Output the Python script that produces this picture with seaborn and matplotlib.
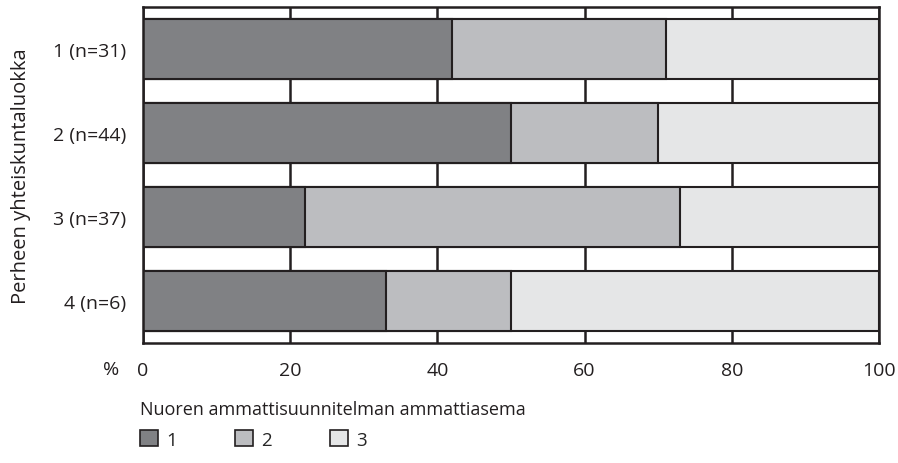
import matplotlib
matplotlib.use("Agg")
import matplotlib.pyplot as plt
import numpy as np
import pandas as pd
import seaborn as sns
from matplotlib.patches import Patch

# data
groups = ["1 (n=31)", "2 (n=44)", "3 (n=37)", "4 (n=6)"]
status_1 = [42, 50, 22, 33]
status_2 = [29, 20, 51, 17]
status_3 = [29, 30, 27, 50]
series_labels = ["1", "2", "3"]
colors = ["#808184", "#bcbdc0", "#e5e6e7"]

df = pd.DataFrame({"group": groups, "s1": status_1, "s2": status_2, "s3": status_3})
df["c1"] = df["s1"]
df["c2"] = df["s1"] + df["s2"]
df["c3"] = df["c2"] + df["s3"]

sns.set_style("white")
plt.rcParams["font.family"] = ["Open Sans", "DejaVu Sans"]
plt.rcParams["font.size"] = 14

ink = "#231f20"
fig = plt.figure(figsize=(8.98, 4.64), dpi=100)
ax = fig.add_axes([0.1592, 0.2586, 0.8196, 0.7241])

# draw cumulative totals from widest to narrowest so they stack
for col, color in zip(["c3", "c2", "c1"], colors[::-1]):
    sns.barplot(data=df, x=col, y="group", color=color, orient="h",
                width=0.714, edgecolor=ink, linewidth=1.5,
                saturation=1, ax=ax)

ax.set_xlim(0, 100)
ax.set_ylim(3.5, -0.5)
ax.set_xticks([0, 20, 40, 60, 80, 100])
ax.xaxis.grid(True, color=ink, linewidth=1.8)
ax.set_axisbelow(True)
ax.tick_params(length=0, labelsize=14, colors=ink)
ax.tick_params(axis="x", pad=13)
ax.tick_params(axis="y", pad=12)
for s in ax.spines.values():
    s.set_color(ink)
    s.set_linewidth(1.8)
ax.set_xlabel("")
ax.set_ylabel("Perheen yhteiskuntaluokka", fontsize=14.5, color=ink, labelpad=16)
fig.text(103 / 898, 1 - 370 / 464, "%", fontsize=14, color=ink,
         ha="left", va="center")

handles = [Patch(facecolor=c, edgecolor=ink, linewidth=1.2) for c in colors]
leg = fig.legend(handles, series_labels, title="Nuoren ammattisuunnitelman ammattiasema",
                 loc="upper left", bbox_to_anchor=(136 / 898, 1 - 397 / 464),
                 ncol=3, frameon=False, fontsize=13.5, title_fontsize=13,
                 alignment="left", handlelength=0.95, handleheight=0.95,
                 handletextpad=0.45, columnspacing=3.1, borderaxespad=0,
                 borderpad=0.2)
leg.get_title().set_color(ink)
leg._legend_box.sep = 9

fig.savefig("out.png", dpi=100)
